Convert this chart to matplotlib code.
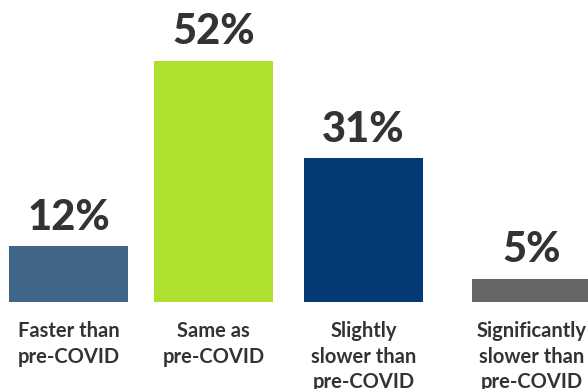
import numpy as np
import matplotlib
matplotlib.use("Agg")
import matplotlib.pyplot as plt

# data
categories = ["Faster than\npre-COVID", "Same as\npre-COVID",
              "Slightly\nslower than\npre-COVID", "Significantly\nslower than\npre-COVID"]
values = [12, 52, 31, 5]

# layout / style
colors = ["#3f6589", "#b0e02e", "#033a76", "#666666"]
xpos = np.arange(4) + np.array([0, 0, 0.034, 0.193])
txt = "#333333"

plt.rcParams['font.family'] = ['Lato', 'DejaVu Sans']

fig = plt.figure(figsize=(5.88, 3.89), dpi=100)
ax = fig.add_axes([0, 0, 1, 1])
ax.bar(xpos, values, width=0.821, color=colors)

for x, v, lab in zip(xpos, values, categories):
    ax.annotate(f"{v}%", (x, v), xytext=(0, 12), textcoords="offset points",
                ha="center", va="baseline", fontsize=30, fontweight="black", color=txt)
    ax.annotate(lab, (x, 0), xytext=(0, -14), textcoords="offset points",
                ha="center", va="top", fontsize=14.5, fontweight="bold", color=txt,
                linespacing=1.33)

ax.set_xlim(-0.472, 3.583)
ax.set_ylim(-87 / 4.635, 302 / 4.635)
ax.axis("off")

fig.savefig("out.png", dpi=100)
